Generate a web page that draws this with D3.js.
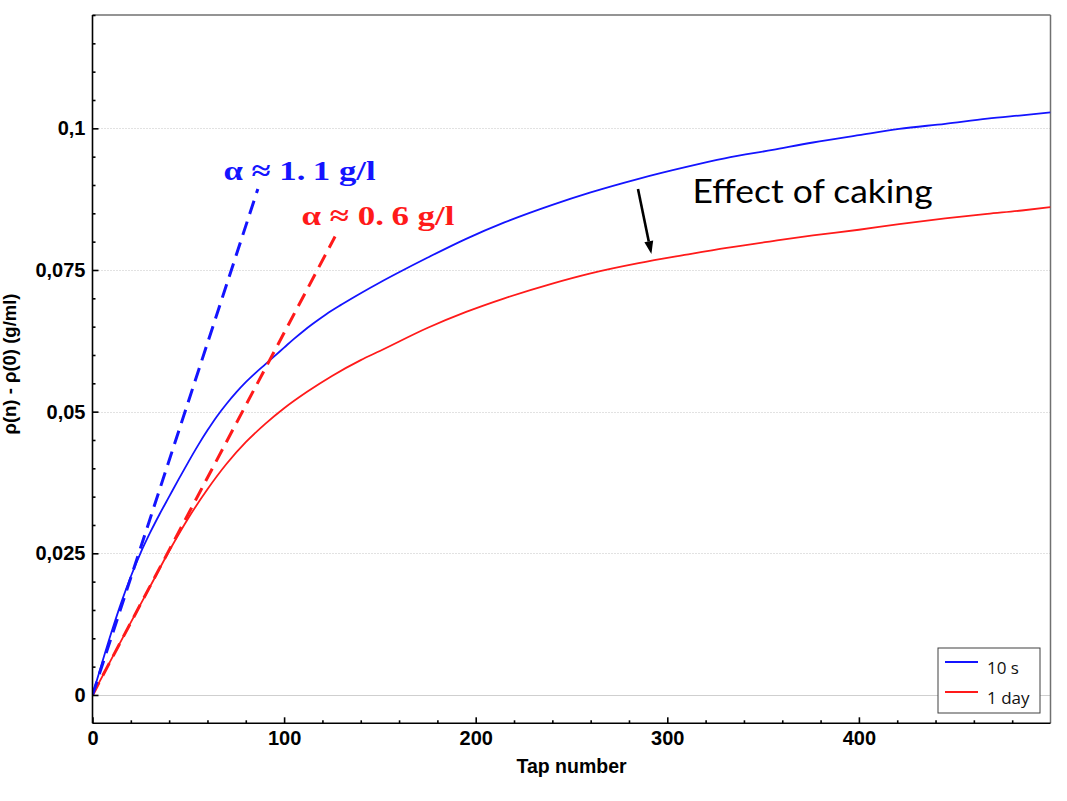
<!DOCTYPE html>
<html>
<head>
<meta charset="utf-8">
<script src="https://cdn.jsdelivr.net/npm/d3@7"></script>
<style>
  html, body { margin: 0; padding: 0; background: #fff; }
  svg { display: block; }
</style>
</head>
<body>
<div id="chart"></div>
<script>
// ---------------- data ----------------
const seriesNames = ["10 s", "1 day"];
const seriesColors = ["#1414ff", "#ff1a1a"];

const tapBlue = [0, 5, 10, 15, 20, 25, 30, 35, 40, 45, 50, 55, 60, 65, 70, 75, 80, 85, 90, 95, 100, 105, 110, 115, 122, 130, 140, 150, 160, 175, 195, 215, 240, 260, 285, 310, 330, 355, 376, 400, 421, 445, 467, 485, 500];
const valBlue = [0, 0.0057, 0.0112, 0.0163, 0.0209, 0.0250, 0.0286, 0.0319, 0.0350, 0.0381, 0.0411, 0.0440, 0.0467, 0.0492, 0.0514, 0.0534, 0.0552, 0.0568, 0.0583, 0.0598, 0.0613, 0.0628, 0.0642, 0.0655, 0.0672, 0.0689, 0.0709, 0.0728, 0.0746, 0.0772, 0.0805, 0.0834, 0.0865, 0.0887, 0.0911, 0.0932, 0.0947, 0.0962, 0.0975, 0.0988, 0.0999, 0.1008, 0.1017, 0.1023, 0.1028];

const tapRed = [0, 10, 20, 30, 40, 50, 60, 70, 80, 90, 100, 112, 125, 140, 150, 175, 195, 215, 240, 260, 285, 310, 331, 355, 376, 400, 421, 445, 467, 485, 500];
const valRed = [0, 0.0064, 0.0128, 0.0191, 0.0254, 0.0312, 0.0363, 0.0408, 0.0446, 0.0478, 0.0506, 0.0535, 0.0563, 0.0591, 0.0607, 0.0648, 0.0676, 0.0700, 0.0726, 0.0744, 0.0762, 0.0777, 0.0789, 0.0801, 0.0811, 0.0821, 0.0831, 0.0841, 0.0849, 0.0855, 0.0861];

// tangent (initial slope) lines: [tap, value] endpoints
const tangentBlue = [[0, 0], [86.3, 0.0893]];
const tangentRed = [[0, 0], [126.6, 0.0809]];

const xTickValues = [0, 100, 200, 300, 400];
const xTickLabels = ["0", "100", "200", "300", "400"];
const xMinorTicks = d3.range(0, 501, 20);
const yTickValues = [0, 0.025, 0.05, 0.075, 0.1];
const yTickLabels = ["0", "0,025", "0,05", "0,075", "0,1"];
const yMinorTicks = d3.range(0, 0.1201, 0.005);

const xTitle = "Tap number";
const yTitle = "ρ(n) - ρ(0) (g/ml)";
const labelBlue = ["α ≈ 1.", "1 g/l"];
const labelRed = ["α ≈ 0.", "6 g/l"];
const cakingText = "Effect of caking";

// ---------------- layout ----------------
const W = 1067, H = 801;
const L = 92.5, R = 1050.5, T = 15, B = 723.3;

const x = d3.scaleLinear().domain([0, 500]).range([L, R]);
const y = d3.scaleLinear().domain([-0.005, 0.12]).range([B, T]);

const svg = d3.select("#chart").append("svg")
  .attr("width", W).attr("height", H);

svg.append("rect").attr("width", W).attr("height", H).attr("fill", "#fff");

// gridlines
const grid = svg.append("g");
grid.selectAll("line.g").data(yTickValues).join("line")
  .attr("x1", L).attr("x2", R)
  .attr("y1", d => Math.round(y(d)) + 0.5).attr("y2", d => Math.round(y(d)) + 0.5)
  .attr("stroke", d => d === 0 ? "#cfcfcf" : "#c4c4c4")
  .attr("stroke-width", 1)
  .attr("stroke-dasharray", d => d === 0 ? null : "1,2");

// frame top / right
svg.append("line").attr("x1", L).attr("x2", R).attr("y1", T).attr("y2", T)
  .attr("stroke", "#707070").attr("stroke-width", 1.5);
svg.append("line").attr("x1", R).attr("x2", R).attr("y1", T).attr("y2", B)
  .attr("stroke", "#707070").attr("stroke-width", 1.5);

// clip
svg.append("clipPath").attr("id", "clip").append("rect")
  .attr("x", L).attr("y", T).attr("width", R - L).attr("height", B - T);

const plot = svg.append("g").attr("clip-path", "url(#clip)");

const line = d3.line().x(d => x(d[0])).y(d => y(d[1])).curve(d3.curveMonotoneX);

const redPts = tapRed.map((t, i) => [t, valRed[i]]);
const bluePts = tapBlue.map((t, i) => [t, valBlue[i]]);

plot.append("path").attr("d", line(redPts)).attr("fill", "none")
  .attr("stroke", seriesColors[1]).attr("stroke-width", 1.8);
plot.append("path").attr("d", line(bluePts)).attr("fill", "none")
  .attr("stroke", seriesColors[0]).attr("stroke-width", 1.8);

const straight = d3.line().x(d => x(d[0])).y(d => y(d[1]));
plot.append("path").attr("d", straight(tangentRed)).attr("fill", "none")
  .attr("stroke", seriesColors[1]).attr("stroke-width", 3)
  .attr("stroke-dasharray", "14,8");
plot.append("path").attr("d", straight(tangentBlue)).attr("fill", "none")
  .attr("stroke", seriesColors[0]).attr("stroke-width", 3)
  .attr("stroke-dasharray", "14,8");

// axes
const tickFont = "'Liberation Sans', Arial, sans-serif";

const xAxis = svg.append("g").attr("transform", `translate(0,${B})`)
  .call(d3.axisBottom(x).tickValues(xTickValues).tickSize(-6).tickSizeOuter(0)
    .tickFormat((d, i) => xTickLabels[i]).tickPadding(8));
const xMinor = svg.append("g").attr("transform", `translate(0,${B})`)
  .call(d3.axisBottom(x).tickValues(xMinorTicks.filter(v => v % 100 !== 0)).tickSize(-3).tickSizeOuter(0).tickFormat(""));
xMinor.select(".domain").remove();

const yAxis = svg.append("g").attr("transform", `translate(${L},0)`)
  .call(d3.axisLeft(y).tickValues(yTickValues).tickSize(-6).tickSizeOuter(0)
    .tickFormat((d, i) => yTickLabels[i]).tickPadding(7));
const yMinor = svg.append("g").attr("transform", `translate(${L},0)`)
  .call(d3.axisLeft(y).tickValues(yMinorTicks.filter(v => Math.abs(v * 1000 % 25) > 1e-6 && Math.abs(v * 1000 % 25 - 25) > 1e-6)).tickSize(-3).tickSizeOuter(0).tickFormat(""));
yMinor.select(".domain").remove();

[xAxis, yAxis, xMinor, yMinor].forEach(g => {
  g.selectAll(".tick line").attr("stroke", "#000").attr("stroke-width", 1.6);
  g.selectAll(".domain").attr("stroke", "#000").attr("stroke-width", 1.6);
  g.selectAll("text").attr("font-family", tickFont).attr("font-weight", "bold")
    .attr("font-size", 20).attr("fill", "#000");
});
// full-length axis lines
yAxis.select(".domain").attr("d", `M0,${T}V${B}`);
xAxis.select(".domain").attr("d", `M${L},0H${R}`);

// axis titles
svg.append("text").attr("x", (L + R) / 2).attr("y", 773)
  .attr("text-anchor", "middle").attr("font-family", tickFont)
  .attr("font-weight", "bold").attr("font-size", 19.5).attr("fill", "#000")
  .text(xTitle);
svg.append("text").attr("transform", `translate(16,364) rotate(-90)`)
  .attr("text-anchor", "middle").attr("font-family", tickFont)
  .attr("font-weight", "bold").attr("font-size", 18.5).attr("fill", "#000")
  .text(yTitle);

// annotations (positions in data units)
const annBlue = { tap: 68.4, val: 0.0908 };
const annRed = { tap: 109.1, val: 0.0829 };
const annCaking = { tap: 313.2, val: 0.0869 };
const arrowFrom = { tap: 284.7, val: 0.0893 };
const arrowTo = { tap: 291.7, val: 0.0778 };

function alphaLabel(pos, parts, color, width) {
  const t = svg.append("text").attr("x", x(pos.tap)).attr("y", y(pos.val))
    .attr("font-family", "'Liberation Serif', 'DejaVu Serif', serif")
    .attr("font-weight", "bold").attr("font-size", 28).attr("fill", color)
    .attr("textLength", width).attr("lengthAdjust", "spacingAndGlyphs");
  t.append("tspan").text(parts[0]);
  t.append("tspan").attr("dx", 6).text(parts[1]);
}
alphaLabel(annBlue, labelBlue, seriesColors[0], 152);
alphaLabel(annRed, labelRed, seriesColors[1], 153);

svg.append("text").attr("x", x(annCaking.tap)).attr("y", y(annCaking.val))
  .attr("font-family", "Lato, 'Open Sans', sans-serif").attr("font-size", 32)
  .attr("fill", "#000").attr("textLength", 240).attr("lengthAdjust", "spacingAndGlyphs")
  .text(cakingText);

// arrow
(function () {
  const x1 = x(arrowFrom.tap), y1 = y(arrowFrom.val), x2 = x(arrowTo.tap), y2 = y(arrowTo.val);
  const ang = Math.atan2(y2 - y1, x2 - x1);
  const hl = 13, hw = 4.5;
  const bx = x2 - hl * Math.cos(ang), by = y2 - hl * Math.sin(ang);
  svg.append("line").attr("x1", x1).attr("y1", y1).attr("x2", bx).attr("y2", by)
    .attr("stroke", "#000").attr("stroke-width", 2.6);
  const px = -Math.sin(ang), py = Math.cos(ang);
  svg.append("path")
    .attr("d", `M${x2},${y2}L${bx + hw * px},${by + hw * py}L${bx - hw * px},${by - hw * py}Z`)
    .attr("fill", "#000");
})();

// legend
const lg = svg.append("g");
lg.append("rect").attr("x", 938).attr("y", 648).attr("width", 102).attr("height", 65)
  .attr("fill", "#fff").attr("stroke", "#404040").attr("stroke-width", 1);
seriesNames.forEach((name, i) => {
  const ly = 662 + i * 30;
  lg.append("line").attr("x1", 945).attr("x2", 978).attr("y1", ly).attr("y2", ly)
    .attr("stroke", seriesColors[i]).attr("stroke-width", 2.2);
  lg.append("text").attr("x", 987).attr("y", ly + 11.5)
    .attr("font-family", "'Open Sans', 'Noto Sans', sans-serif").attr("font-size", 17)
    .attr("fill", "#111").text(name);
});
</script>
</body>
</html>
